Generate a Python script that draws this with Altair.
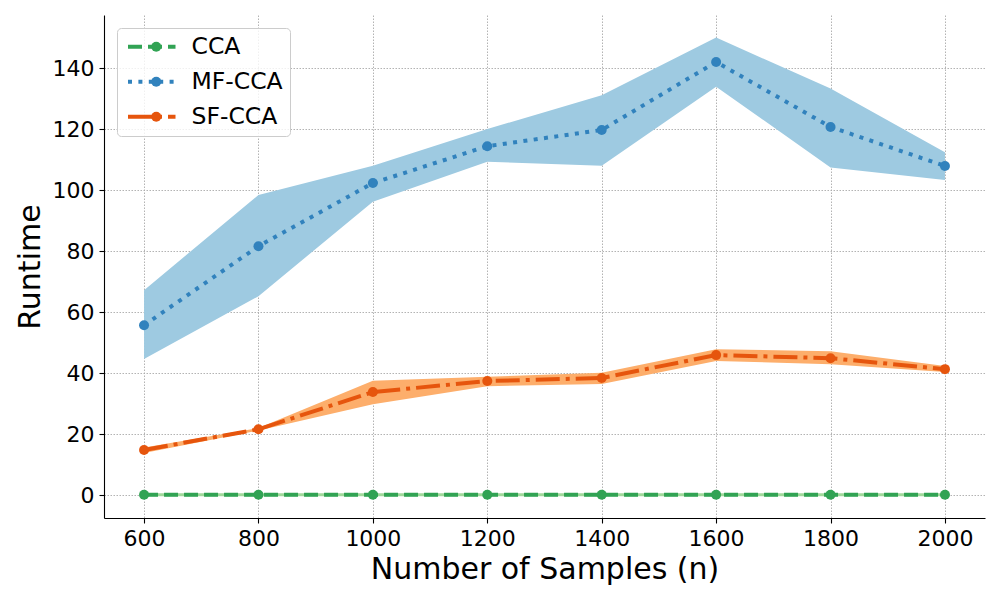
import altair as alt
import pandas as pd

samples = [600, 800, 1000, 1200, 1400, 1600, 1800, 2000]
series_names = ["CCA", "MF-CCA", "SF-CCA"]

cca_mean = [0.1, 0.1, 0.1, 0.1, 0.1, 0.1, 0.1, 0.1]
cca_lo = [-0.4, -0.4, -0.4, -0.4, -0.4, -0.4, -0.4, -0.4]
cca_hi = [0.6, 0.6, 0.6, 0.6, 0.6, 0.6, 0.6, 0.6]

mf_mean = [55.7, 81.6, 102.3, 114.4, 119.7, 142.0, 120.7, 107.9]
mf_lo = [44.6, 65.2, 96.2, 109.3, 108.0, 133.9, 107.4, 103.3]
mf_hi = [67.2, 98.4, 108.0, 120.0, 131.1, 150.0, 133.3, 112.4]

sf_mean = [14.8, 21.6, 33.8, 37.4, 38.4, 45.9, 44.9, 41.3]
sf_lo = [13.8, 21.2, 29.8, 35.7, 36.4, 44.0, 42.9, 40.4]
sf_hi = [15.6, 22.0, 37.5, 38.8, 40.1, 47.8, 47.2, 42.3]

line_colors = ["#31a354", "#3182bd", "#e6550d"]
band_colors = ["#a1d99b", "#9ecae1", "#fdae6b"]
dashes = [[14, 6], [4, 6.4], [24, 6, 4, 6]]

# marker keys (distinct domain so the marker legend is kept separate from the line legend)
marker_keys = [s + " " for s in series_names]

rows = []
for name, mk, bc, m, lo, hi in [("CCA", marker_keys[0], band_colors[0], cca_mean, cca_lo, cca_hi),
                                ("MF-CCA", marker_keys[1], band_colors[1], mf_mean, mf_lo, mf_hi),
                                ("SF-CCA", marker_keys[2], band_colors[2], sf_mean, sf_lo, sf_hi)]:
    for x, a, b, c in zip(samples, m, lo, hi):
        rows.append({"n": x, "series": name, "marker": mk, "bandcol": bc,
                     "mean": a, "lo": b, "hi": c})
df = pd.DataFrame(rows)

FONT = "DejaVu Sans"
LFS = 23.5

xenc = alt.X("n:Q", scale=alt.Scale(domain=[530, 2070], nice=False, zero=False),
             axis=alt.Axis(values=samples, title="Number of Samples (n)", format="d",
                           titleFontSize=30, titleFontWeight="normal", titleY=51,
                           titleBaseline="middle", labelFontSize=22, labelPadding=5,
                           tickSize=5, grid=True))
yscale = alt.Scale(domain=[-7.5, 157.4], nice=False, zero=False)
yaxis = alt.Axis(values=list(range(0, 141, 20)), title="Runtime", titleFontSize=30,
                 titleFontWeight="normal", titleX=-74, titleY=251.5, titleAngle=-90,
                 titleAlign="center", titleBaseline="middle", labelFontSize=22,
                 labelPadding=5, tickSize=5, grid=True)

base = alt.Chart(df)

bands = base.mark_area(opacity=1).encode(
    x=xenc,
    y=alt.Y("lo:Q", scale=yscale, axis=yaxis),
    y2="hi:Q",
    fill=alt.Fill("bandcol:N", scale=None),
    detail="series:N",
)

line_leg = alt.Legend(title=None, orient="none", legendX=13, legendY=13, zindex=1,
                      symbolType="M -2.5 0 L 2.5 0", symbolSize=361,
                      symbolStrokeWidth=4, symbolOffset=16,
                      labelFontSize=LFS, labelOffset=28, labelFont=FONT,
                      rowPadding=10, padding=7,
                      fillColor="rgba(255,255,255,0.8)", strokeColor="#cccccc",
                      cornerRadius=4)

marker_leg = alt.Legend(title=None, orient="none", legendX=13, legendY=13, zindex=2,
                        symbolType="circle", symbolSize=100, symbolStrokeWidth=0,
                        symbolOffset=20.5, symbolOpacity=1,
                        labelFontSize=LFS, labelOffset=28, labelFont=FONT, labelOpacity=0,
                        labelExpr="' '",
                        rowPadding=10, padding=7)

cscale = alt.Scale(domain=series_names, range=line_colors)

lines = base.mark_line(strokeWidth=4, strokeCap="butt").encode(
    x="n:Q",
    y=alt.Y("mean:Q"),
    color=alt.Color("series:N", scale=cscale, legend=line_leg),
    strokeDash=alt.StrokeDash("series:N", scale=alt.Scale(domain=series_names, range=dashes),
                              legend=line_leg),
)

points = base.mark_circle(size=100, opacity=1).encode(
    x="n:Q",
    y="mean:Q",
    fill=alt.Fill("marker:N", scale=alt.Scale(domain=marker_keys, range=line_colors),
                  legend=marker_leg),
)

chart = alt.layer(bands, lines, points).properties(
    width=881, height=503,
    autosize=alt.AutoSizeParams(type="none"),
    padding={"left": 96, "top": 7, "right": 7, "bottom": 74},
).configure_view(stroke=None).configure_axis(
    domainColor="black", domainWidth=1.1, tickColor="black", tickWidth=1.1,
    labelColor="black", titleColor="black", labelFont=FONT, titleFont=FONT,
    gridColor="#aaaaaa", gridDash=[1.5, 1.5], gridWidth=0.9,
).configure_legend(labelColor="black")

chart.save("out.html", embed_options={"renderer": "svg", "actions": False})
